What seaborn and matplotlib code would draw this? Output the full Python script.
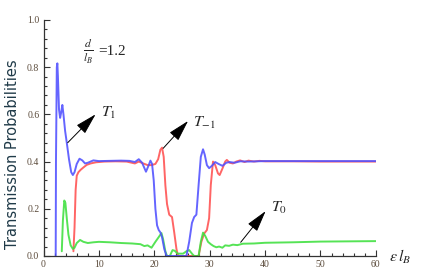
import matplotlib
matplotlib.use("Agg")
import matplotlib.pyplot as plt
import seaborn as sns
import pandas as pd
from matplotlib.ticker import MultipleLocator

# ---- data ----
t1_x = [2.2, 2.25, 2.4, 2.5, 2.6, 2.8, 3.0, 3.2, 3.4, 3.6, 3.9, 4.2, 4.6, 5.0, 5.3, 5.6,
        6.0, 6.5, 7.0, 7.5, 8.0, 9.0, 10, 12, 14, 15.5, 16.5, 17.2, 17.8, 18.5, 19.0,
        19.3, 19.6, 19.9, 20.2, 20.5, 20.8, 21.1, 21.4, 21.8, 22.2, 25.8, 26.3, 26.8,
        27.2, 27.6, 28.0, 28.4, 28.8, 29.1, 29.5, 29.9, 30.4, 31.0, 31.6, 32.3, 33.0,
        33.6, 34.5, 35.5, 37, 40, 45, 50, 55, 60]
t1_y = [0.0, 0.40, 0.80, 0.816, 0.76, 0.62, 0.585, 0.61, 0.64, 0.60, 0.53, 0.48, 0.41,
        0.355, 0.343, 0.355, 0.39, 0.412, 0.405, 0.392, 0.395, 0.405, 0.402, 0.403,
        0.404, 0.403, 0.398, 0.41, 0.395, 0.357, 0.385, 0.404, 0.39, 0.32, 0.20, 0.13,
        0.11, 0.10, 0.08, 0.03, 0.0, 0.0, 0.06, 0.14, 0.165, 0.175, 0.30, 0.42, 0.452,
        0.43, 0.385, 0.372, 0.382, 0.398, 0.39, 0.382, 0.395, 0.398, 0.395, 0.401,
        0.40, 0.402, 0.402, 0.402, 0.402, 0.402]

tm1_x = [5.4, 5.6, 5.8, 6.0, 6.3, 6.7, 7.2, 7.8, 8.5, 9.5, 11, 13, 15, 16.5, 17.2, 18,
         18.8, 19.5, 20.2, 20.7, 21.1, 21.4, 21.7, 22.0, 22.3, 22.7, 23.2, 23.6, 24.0,
         24.3, 28.0, 28.5, 29.0, 29.5, 29.9, 30.2, 30.6, 31.0, 31.5, 31.8, 32.3, 32.8,
         33.1, 33.6, 34.2, 34.8, 35.5, 36.3, 37, 38, 39, 40, 45, 50, 55, 60]
tm1_y = [0.02, 0.12, 0.28, 0.34, 0.355, 0.365, 0.375, 0.386, 0.392, 0.397, 0.40, 0.401,
         0.40, 0.392, 0.40, 0.392, 0.385, 0.385, 0.39, 0.41, 0.45, 0.459, 0.42, 0.30,
         0.22, 0.175, 0.165, 0.10, 0.03, 0.0, 0.0, 0.06, 0.095, 0.11, 0.16, 0.30, 0.40,
         0.385, 0.35, 0.343, 0.37, 0.40, 0.407, 0.395, 0.392, 0.40, 0.405, 0.398,
         0.404, 0.40, 0.403, 0.401, 0.401, 0.40, 0.40, 0.40]

t0_x = [3.3, 3.5, 3.75, 3.95, 4.2, 4.5, 4.9, 5.3, 5.6, 6.0, 6.6, 7.2, 8.0, 9.0, 10, 12,
        14, 16, 17.5, 18.2, 18.8, 19.5, 20.2, 20.8, 21.3, 21.6, 22.0, 22.3, 22.8, 23.3,
        23.7, 24.2, 25.2, 25.8, 26.3, 26.8, 27.2, 28.0, 28.4, 28.8, 29.2, 29.7, 30.2,
        30.7, 31.2, 31.7, 32.3, 32.8, 33.5, 34.2, 35.0, 36, 38, 40, 45, 50, 55, 60]
t0_y = [0.02, 0.15, 0.235, 0.225, 0.16, 0.09, 0.045, 0.03, 0.035, 0.055, 0.068, 0.06,
        0.055, 0.058, 0.06, 0.058, 0.055, 0.053, 0.05, 0.042, 0.045, 0.035, 0.06, 0.08,
        0.097, 0.07, 0.02, 0.0, 0.0, 0.025, 0.022, 0.01, 0.01, 0.02, 0.025, 0.01, 0.0,
        0.0, 0.06, 0.099, 0.085, 0.06, 0.05, 0.042, 0.037, 0.04, 0.035, 0.045, 0.043,
        0.048, 0.046, 0.052, 0.053, 0.056, 0.058, 0.061, 0.062, 0.063]

series_names = ["T-1", "T0", "T1"]
series_colors = {"T-1": "#ff5050", "T0": "#3ee03e", "T1": "#5050ff"}

df = pd.concat([
    pd.DataFrame({"x": tm1_x, "y": tm1_y, "s": "T-1"}),
    pd.DataFrame({"x": t0_x, "y": t0_y, "s": "T0"}),
    pd.DataFrame({"x": t1_x, "y": t1_y, "s": "T1"}),
])

sns.set_style("ticks")
plt.rcParams["mathtext.fontset"] = "stix"

fig = plt.figure(figsize=(4.36, 2.73), dpi=100)
ax = fig.add_axes([0.0998, 0.0623, 0.862 - 0.0998, 0.927 - 0.0623])

for name in series_names:
    sub = df[df["s"] == name]
    sns.lineplot(data=sub, x="x", y="y", ax=ax, color=series_colors[name],
                 lw=1.4, alpha=0.88, sort=False, estimator=None, legend=False)

ax.set_xlim(0, 60)
ax.set_ylim(0, 1.0)
ax.set_xlabel("")
ax.set_ylabel("")
ax.xaxis.set_major_locator(MultipleLocator(10))
ax.xaxis.set_minor_locator(MultipleLocator(2))
ax.yaxis.set_major_locator(MultipleLocator(0.2))
ax.yaxis.set_minor_locator(MultipleLocator(0.04))
ax.yaxis.set_major_formatter(plt.FuncFormatter(lambda v, p: f"{v:.1f}"))
ax.tick_params(which="both", direction="in", color="#333333", width=0.8)
ax.tick_params(which="major", length=4.5, labelsize=7, labelcolor="#5a4a3a", pad=3)
ax.tick_params(which="minor", length=2.5)
for lab in ax.get_xticklabels() + ax.get_yticklabels():
    lab.set_family("Liberation Serif")
for sp in ["top", "right"]:
    ax.spines[sp].set_visible(False)
for sp in ["left", "bottom"]:
    ax.spines[sp].set_color("#333333")
    ax.spines[sp].set_linewidth(0.9)

aprops = dict(arrowstyle="-|>,head_length=0.95,head_width=0.26", color="black",
              lw=0.7, mutation_scale=14, shrinkA=0, shrinkB=0)
ax.annotate("", xy=(9.4, 0.60), xytext=(4.37, 0.48), arrowprops=aprops)
ax.annotate("", xy=(26.1, 0.572), xytext=(21.6, 0.456), arrowprops=aprops)
ax.annotate("", xy=(40.1, 0.19), xytext=(35.6, 0.058), arrowprops=aprops)

ax.text(10.4, 0.606, r"$T_1$", fontsize=11.5, va="center", ha="left")
ax.text(27.0, 0.565, r"$T_{-1}$", fontsize=11.5, va="center", ha="left")
ax.text(41.0, 0.205, r"$T_0$", fontsize=11.5, va="center", ha="left")
ax.text(7.2, 0.868, r"$\frac{d}{l_B}$", fontsize=12, va="center", ha="left")
ax.text(9.8, 0.868, "=1.2", fontsize=11, va="center", ha="left",
        family="Liberation Serif")

fig.text(389 / 436, 1 - 257 / 273, r"$\epsilon\, l_B$", fontsize=11.5, va="center", ha="left")
fig.text(13 / 436, 1 - 154 / 273, "Transmission Probabilities", rotation=90,
         fontsize=10.5, va="center", ha="center", color="#1f3a48", family="DejaVu Sans")

fig.savefig("out.png", dpi=100)
